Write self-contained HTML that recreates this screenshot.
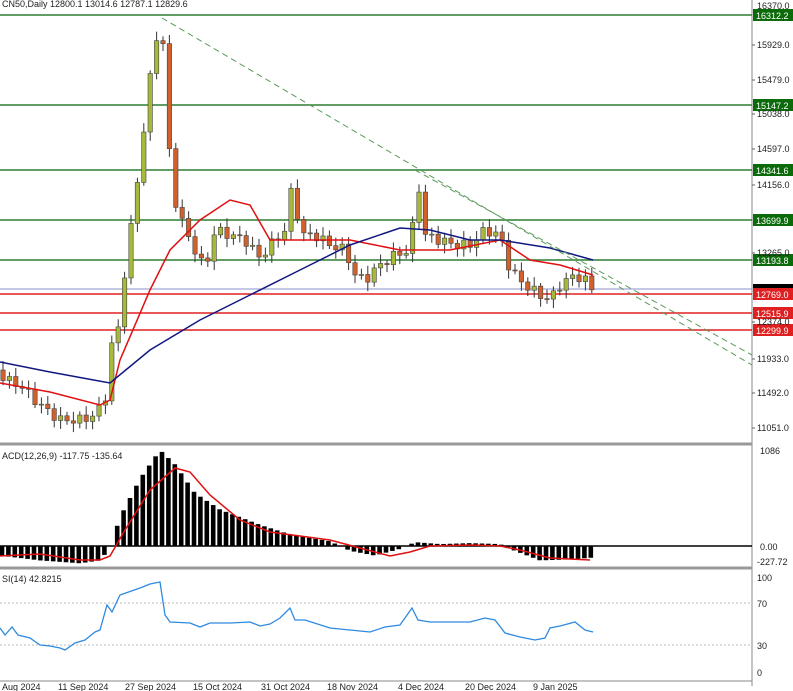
<!DOCTYPE html>
<html><head><meta charset="utf-8"><style>
body{margin:0;background:#fff;width:793px;height:691px;overflow:hidden;font-family:"Liberation Sans",sans-serif}
svg{display:block}
text{font-family:"Liberation Sans",sans-serif;font-size:9px;fill:#222}
</style></head><body>
<svg id="s" width="793" height="691" xmlns="http://www.w3.org/2000/svg"></svg>
<script>
const S=document.getElementById('s');let h='';
function L(x1,y1,x2,y2,c,w,d){h+=`<line x1="${x1}" y1="${y1}" x2="${x2}" y2="${y2}" stroke="${c}" stroke-width="${w||1}" ${d?`stroke-dasharray="${d}"`:''}/>`;}
function T(x,y,t,a){h+=`<text x="${x}" y="${y}" ${a||''}>${t}</text>`;}
function interp(pts,x){for(let i=0;i<pts.length-1;i++){if(x<=pts[i+1][0]){const [x0,y0]=pts[i],[x1,y1]=pts[i+1];return y0+(y1-y0)*(x-x0)/(x1-x0);}}return pts[pts.length-1][1];}
function poly(pts,c,w){h+=`<polyline fill="none" stroke="${c}" stroke-width="${w}" points="${pts.map(p=>p.join(',')).join(' ')}"/>`;}
// frames
L(752,0,752,686,'#888');
L(0,444,752,444,'#999',3);L(0,568,752,568,'#999',3);L(0,681,752,681,'#888');
// horizontal levels
[[15,'16312.2'],[105,'15147.2'],[170,'14341.6'],[220,'13699.9'],[260,'13193.8']].forEach(([y,t])=>{L(0,y,752,y,'#2e7d32',1.5);h+=`<rect x="753" y="${y-6}" width="40" height="12" fill="#0b6b0b"/>`;T(756,y+4,t,'style="fill:#fff"');});
L(0,289,752,289,'#8890c8',1);h+=`<rect x="753" y="284" width="40" height="10" fill="#000"/>`;
[[294,'12769.0'],[313,'12515.9'],[330,'12299.9']].forEach(([y,t])=>{L(0,y,752,y,'#e02020',1.5);h+=`<rect x="753" y="${y-6}" width="40" height="12" fill="#e02020"/>`;T(756,y+4,t,'style="fill:#fff"');});
[[48,'15929.0'],[83,'15479.0'],[117,'15038.0'],[152,'14597.0'],[188,'14156.0'],[256,'13265.0'],[325,'12374.0'],[362,'11933.0'],[396,'11492.0'],[431,'11051.0']].forEach(([y,t])=>{L(752,y-3,755,y-3,'#666');T(757,y,t);});
T(757,9,'16370.0');
// candles
const cp=[[0,372],[5,380],[20,385],[40,405],[60,420],[80,420],[95,415],[105,400],[110,350],[118,330],[125,270],[135,200],[145,120],[155,40],[162,25],[168,140],[175,200],[185,230],[195,250],[205,270],[215,230],[230,235],[245,240],[260,258],[275,240],[285,230],[293,180],[300,235],[315,235],[330,245],[345,250],[355,275],[365,280],[380,265],[395,255],[410,250],[418,180],[425,235],[440,240],[455,245],[470,245],[485,230],[500,235],[510,270],[525,285],[540,295],[550,300],[560,285],[575,275],[585,280],[593,290]];
let prev=370,k=0;
for(let x=3;x<=594;x+=6.4){k++;let c=interp(cp,x)+Math.sin(k*2.3)*5;let o=prev;let hi=Math.min(o,c)-3-Math.abs(Math.sin(k*1.7))*6,lo=Math.max(o,c)+3+Math.abs(Math.cos(k*1.3))*6;
L(x,hi,x,lo,'#333');const up=c<o;h+=`<rect x="${x-2.2}" y="${Math.min(o,c)}" width="4.4" height="${Math.max(1,Math.abs(o-c))}" fill="${up?'#a8b83a':'#d2602a'}" stroke="#444" stroke-width="0.6"/>`;prev=c;}
// MAs
const red=[[0,383],[50,392],[100,405],[110,400],[120,360],[150,290],[170,250],[200,220],[230,200],[250,205],[270,240],[300,240],[350,240],[400,250],[450,250],[500,240],[530,260],[560,265],[593,275]];
const blue=[[0,362],[50,372],[110,383],[150,350],[200,320],[250,295],[300,270],[350,245],[400,228],[430,230],[470,240],[500,240],[550,248],[593,260]];
poly(red,'#e01010',1.5);poly(blue,'#101880',1.5);
L(162,18,752,365,'#5a9a5a',1,'6,4');L(415,170,752,355,'#5a9a5a',1,'6,4');
T(2,7,'CN50,Daily  12800.1 13014.6 12787.1 12829.6');
// MACD
L(0,546,752,546,'#000',1.5);
const hp=[[0,-10],[40,-15],[80,-18],[100,-15],[110,-2],[120,30],[140,70],[160,100],[175,85],[195,55],[220,38],[260,22],[290,12],[330,5],[350,-5],[375,-10],[400,-3],[415,4],[440,2],[470,3],[500,2],[510,-3],[540,-15],[570,-14],[594,-12]];
for(let x=2;x<=594;x+=6.4){const v=interp(hp,x);const y=546-v*0.96;h+=`<rect x="${x-2.3}" y="${Math.min(y,546)}" width="4.6" height="${Math.abs(546-y)}" fill="#000"/>`;}
poly([[0,556],[40,554],[80,560],[100,560],[110,556],[125,530],[150,490],[175,468],[190,472],[210,495],[240,520],[270,532],[300,536],[330,540],[360,548],[390,556],[410,552],[430,546],[470,545],[500,546],[520,550],[550,558],[590,560]],'#e01010',1.5);
T(2,459,'ACD(12,26,9) -117.75 -135.64');T(760,454,'1086');T(760,550,'0.00');T(757,565,'-227.72');
// RSI
L(0,603,752,603,'#bbb',1,'2,2');L(0,645,752,645,'#bbb',1,'2,2');
T(2,582,'SI(14) 42.8215');T(757,581,'100');T(757,607,'70');T(757,649,'30');T(757,676,'0');
poly([[0,628],[5,635],[12,627],[18,635],[30,638],[40,645],[50,646],[60,648],[65,650],[75,643],[85,640],[95,632],[100,630],[107,605],[112,612],[120,595],[140,588],[150,584],[160,582],[165,615],[170,622],[190,623],[200,627],[210,623],[230,623],[250,622],[260,626],[270,624],[280,618],[290,608],[295,620],[305,620],[330,628],[370,632],[385,627],[400,625],[412,608],[418,620],[430,622],[450,622],[470,622],[485,618],[495,620],[505,633],[520,637],[535,640],[545,638],[550,628],[560,626],[575,622],[585,630],[593,632]],'#2e8ae0',1.3);
[[2,'Aug 2024'],[58,'11 Sep 2024'],[125,'27 Sep 2024'],[193,'15 Oct 2024'],[261,'31 Oct 2024'],[327,'18 Nov 2024'],[398,'4 Dec 2024'],[465,'20 Dec 2024'],[533,'9 Jan 2025']].forEach(([x,t])=>T(x,690,t));
S.innerHTML=h;
</script>
</body></html>
